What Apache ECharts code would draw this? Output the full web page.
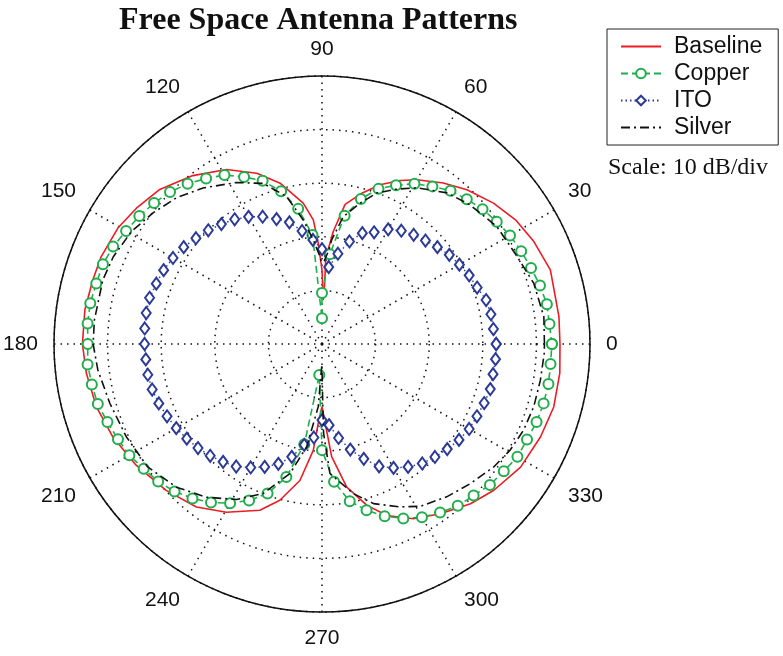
<!DOCTYPE html>
<html>
<head>
<meta charset="utf-8">
<title>Free Space Antenna Patterns</title>
<script src="https://cdn.jsdelivr.net/npm/echarts@6/dist/echarts.min.js"></script>
<style>
  html, body { margin: 0; padding: 0; background: #fff; }
  #chart { width: 783px; height: 656px; }
</style>
</head>
<body>
<div id="chart"></div>
<script>
// Radiation patterns in dB (radial axis: 10 dB per ring, 5 rings)
const angleTicks = [0, 30, 60, 90, 120, 150, 180, 210, 240, 270, 300, 330];

// Baseline: traced pattern, angle (deg) and level (dB)
const baselineAngles = [0, 6.6, 18, 25.8, 32.7, 39.4, 46.8, 53, 60, 64.5, 70, 75.2, 80.6, 84.3, 87.5, 87.5, 88.5, 90, 92.1, 94, 97.6, 104.6, 110.9, 118.7, 127.5, 136.4, 143.8, 150.4, 158.4, 164.4, 171.8, 180, 187.1, 195.5, 204, 213.1, 223.2, 232.4, 240.4, 249.5, 254.9, 260.8, 265.3, 267.3, 270, 274.9, 279.8, 285.5, 290.7, 297.6, 304.9, 312.9, 319.6, 328.2, 337, 344.8, 353, 360];
const baselineLevels = [44.4, 44.5, 44.8, 43.9, 42.9, 41.4, 39.5, 37.6, 35.4, 33.8, 31.6, 29.1, 26.4, 21.1, 16.0, 10.7, 8.2, 13.8, 18.8, 23.2, 26.5, 31.0, 34.1, 37.1, 39.6, 41.8, 42.9, 43.8, 44.3, 44.4, 44.7, 44.7, 44.3, 43.7, 42.7, 41.4, 39.9, 38.4, 36.1, 33.1, 30.2, 25.8, 19.9, 14.8, 11.7, 21.1, 27.1, 31.2, 34.2, 36.8, 38.6, 40.7, 42.1, 43.6, 44.3, 44.8, 44.7, 44.4];

// Copper: sampled every 5 degrees (two samples on the 90 degree null)
const copperAngles = [0, 5, 10, 15, 20, 25, 30, 35, 40, 45, 50, 55, 60, 65, 70, 75, 80, 85, 90, 90, 95, 100, 105, 110, 115, 120, 125, 130, 135, 140, 145, 150, 155, 160, 165, 170, 175, 180, 185, 190, 195, 200, 205, 210, 215, 220, 225, 230, 235, 240, 245, 250, 255, 260, 265, 270, 275, 280, 285, 290, 295, 300, 305, 310, 315, 320, 325, 330, 335, 340, 345, 350, 355, 360];
const copperLevels = [42.9, 42.6, 42.6, 42.1, 41.5, 41.0, 40.5, 39.8, 39.1, 38.2, 37.3, 35.9, 34.5, 32.7, 30.8, 28.0, 24.3, 16.8, 9.5, 4.8, 20.4, 25.6, 29.5, 32.4, 34.4, 36.4, 37.7, 39.0, 40.1, 40.9, 41.6, 42.2, 43.0, 43.5, 43.6, 43.9, 43.9, 43.7, 43.9, 43.6, 43.3, 42.6, 42.0, 41.5, 40.6, 39.9, 38.9, 37.6, 36.1, 34.3, 32.2, 29.7, 25.7, 19.0, 5.8, 19.8, 25.8, 29.8, 32.1, 34.2, 35.9, 37.3, 38.4, 39.4, 40.0, 40.9, 41.4, 42.1, 42.2, 42.6, 42.8, 42.9, 42.8, 42.9];

// ITO: sampled every 5 degrees
const itoAngles = [0, 5, 10, 15, 20, 25, 30, 35, 40, 45, 50, 55, 60, 65, 70, 75, 80, 85, 90, 95, 100, 105, 110, 115, 120, 125, 130, 135, 140, 145, 150, 155, 160, 165, 170, 175, 180, 185, 190, 195, 200, 205, 210, 215, 220, 225, 230, 235, 240, 245, 250, 255, 260, 265, 270, 275, 280, 285, 290, 295, 300, 305, 310, 315, 320, 325, 330, 335, 340, 345, 350, 355, 360];
const itoLevels = [32.5, 32.1, 32.0, 31.7, 30.8, 30.3, 29.6, 29.0, 28.1, 27.3, 26.6, 25.8, 24.7, 23.0, 22.0, 19.8, 17.1, 14.4, 17.7, 19.5, 21.4, 23.5, 24.8, 26.2, 27.4, 28.4, 29.2, 30.0, 30.7, 31.5, 32.1, 32.6, 32.9, 33.3, 33.3, 33.2, 33.1, 33.0, 33.0, 32.8, 32.4, 31.9, 31.4, 30.8, 30.2, 29.5, 28.7, 27.9, 26.6, 25.3, 23.8, 21.8, 19.1, 17.5, 14.2, 15.2, 17.8, 20.4, 22.8, 25.2, 26.7, 28.0, 29.1, 29.8, 30.5, 31.2, 31.7, 31.9, 32.2, 32.5, 32.4, 32.5, 32.5];

// Silver: traced pattern
const silverAngles = [0, 7, 16, 24.2, 33.9, 43.2, 50.4, 58.7, 64.2, 70, 74.9, 80.5, 84.7, 86.1, 88.5, 90.5, 91.3, 94.8, 98.6, 103.5, 110.1, 117.9, 127.3, 134.9, 142.2, 149.5, 157.3, 163.7, 174, 180, 186.6, 195.6, 205.4, 215.2, 224.5, 233, 241.2, 248.5, 256.1, 261.5, 266.6, 268.5, 269.8, 270.5, 271, 273.5, 281.8, 287.9, 295.6, 301.2, 309.2, 316.7, 324.4, 330.6, 336.9, 343.5, 350.6, 357.6, 360];
const silverLevels = [41.5, 41.7, 41.1, 39.9, 39.3, 37.9, 36.6, 34.1, 32.1, 30.0, 27.2, 24.1, 19.5, 17.3, 15.5, 15.3, 16.3, 19.5, 23.4, 28.3, 31.9, 34.1, 36.6, 38.5, 39.9, 41.3, 42.2, 42.6, 42.7, 42.7, 42.1, 41.1, 40.4, 39.8, 38.1, 35.8, 33.1, 30.0, 24.9, 19.4, 11.7, 5.0, 3.8, 8.0, 16.6, 24.2, 28.5, 31.3, 33.7, 35.4, 36.8, 38.0, 39.4, 40.3, 40.9, 41.2, 41.3, 41.5, 41.5];

// polar series data is [radius, angle]
function pairs(angles, levels) {
  return angles.map((a, i) => [levels[i], a]);
}

const dotted = [1.5, 5];
const gridColor = '#111';
const chart = echarts.init(document.getElementById('chart'), null, { renderer: 'canvas' });

chart.setOption({
  animation: false,
  backgroundColor: '#ffffff',
  title: {
    text: 'Free Space Antenna Patterns',
    left: 114,
    top: 0,
    textStyle: {
      fontFamily: 'Liberation Serif',
      fontWeight: 'bold',
      fontSize: 32,
      color: '#111'
    }
  },
  legend: {
    orient: 'vertical',
    left: 607,
    top: 29,
    padding: [6, 16, 6, 13],
    itemWidth: 40,
    itemHeight: 12,
    itemGap: 4,
    borderColor: '#222',
    borderWidth: 1,
    backgroundColor: '#fff',
    textStyle: {
      fontFamily: 'Liberation Sans',
      fontSize: 23,
      color: '#111',
      lineHeight: 21,
      padding: [0, 0, 0, 8]
    },
    data: [
      { name: 'Baseline', itemStyle: { opacity: 0 } },
      { name: 'Copper' },
      { name: 'ITO' },
      { name: 'Silver', itemStyle: { opacity: 0 } }
    ]
  },
  graphic: [{
    type: 'text',
    left: 608,
    top: 156,
    style: {
      text: 'Scale: 10 dB/div',
      font: '24px "Liberation Serif"',
      fill: '#111'
    }
  }],
  polar: {
    center: [322, 344],
    radius: 268
  },
  angleAxis: {
    type: 'value',
    min: 0,
    max: 360,
    interval: 30,
    startAngle: 0,
    clockwise: false,
    axisLine: { show: true, lineStyle: { color: '#111', width: 1.5 } },
    axisTick: { show: false },
    axisLabel: {
      margin: 16,
      fontFamily: 'Liberation Sans',
      fontSize: 21,
      color: '#111',
      formatter: v => (angleTicks.indexOf(v) >= 0 ? String(v) : '')
    },
    splitLine: { show: true, lineStyle: { color: gridColor, width: 1.5, type: dotted } }
  },
  radiusAxis: {
    type: 'value',
    min: 0,
    max: 50,
    interval: 10,
    axisLine: { show: false },
    axisTick: { show: false },
    axisLabel: { show: false },
    splitLine: { show: true, lineStyle: { color: gridColor, width: 1.5, type: dotted } }
  },
  series: [
    {
      name: 'Baseline',
      type: 'line',
      coordinateSystem: 'polar',
      symbol: 'none',
      lineStyle: { color: '#ec1c24', width: 1.6 },
      itemStyle: { color: '#ec1c24' },
      data: pairs(baselineAngles, baselineLevels),
      z: 2
    },
    {
      name: 'Copper',
      type: 'line',
      coordinateSystem: 'polar',
      symbol: 'emptyCircle',
      symbolSize: 10,
      lineStyle: { color: '#1fae4b', width: 1.6, type: [7, 4] },
      itemStyle: { color: '#1fae4b', borderWidth: 1.8 },
      data: pairs(copperAngles, copperLevels),
      z: 3
    },
    {
      name: 'ITO',
      type: 'line',
      coordinateSystem: 'polar',
      symbol: 'emptyDiamond',
      symbolSize: [9, 12],
      lineStyle: { color: '#2b3a96', width: 1.4, type: [1.5, 3] },
      itemStyle: { color: '#2b3a96', borderWidth: 2 },
      data: pairs(itoAngles, itoLevels),
      z: 4
    },
    {
      name: 'Silver',
      type: 'line',
      coordinateSystem: 'polar',
      symbol: 'none',
      lineStyle: { color: '#111', width: 1.6, type: [9, 4, 2, 4] },
      itemStyle: { color: '#111' },
      data: pairs(silverAngles, silverLevels),
      z: 5
    }
  ]
});
</script>
</body>
</html>
